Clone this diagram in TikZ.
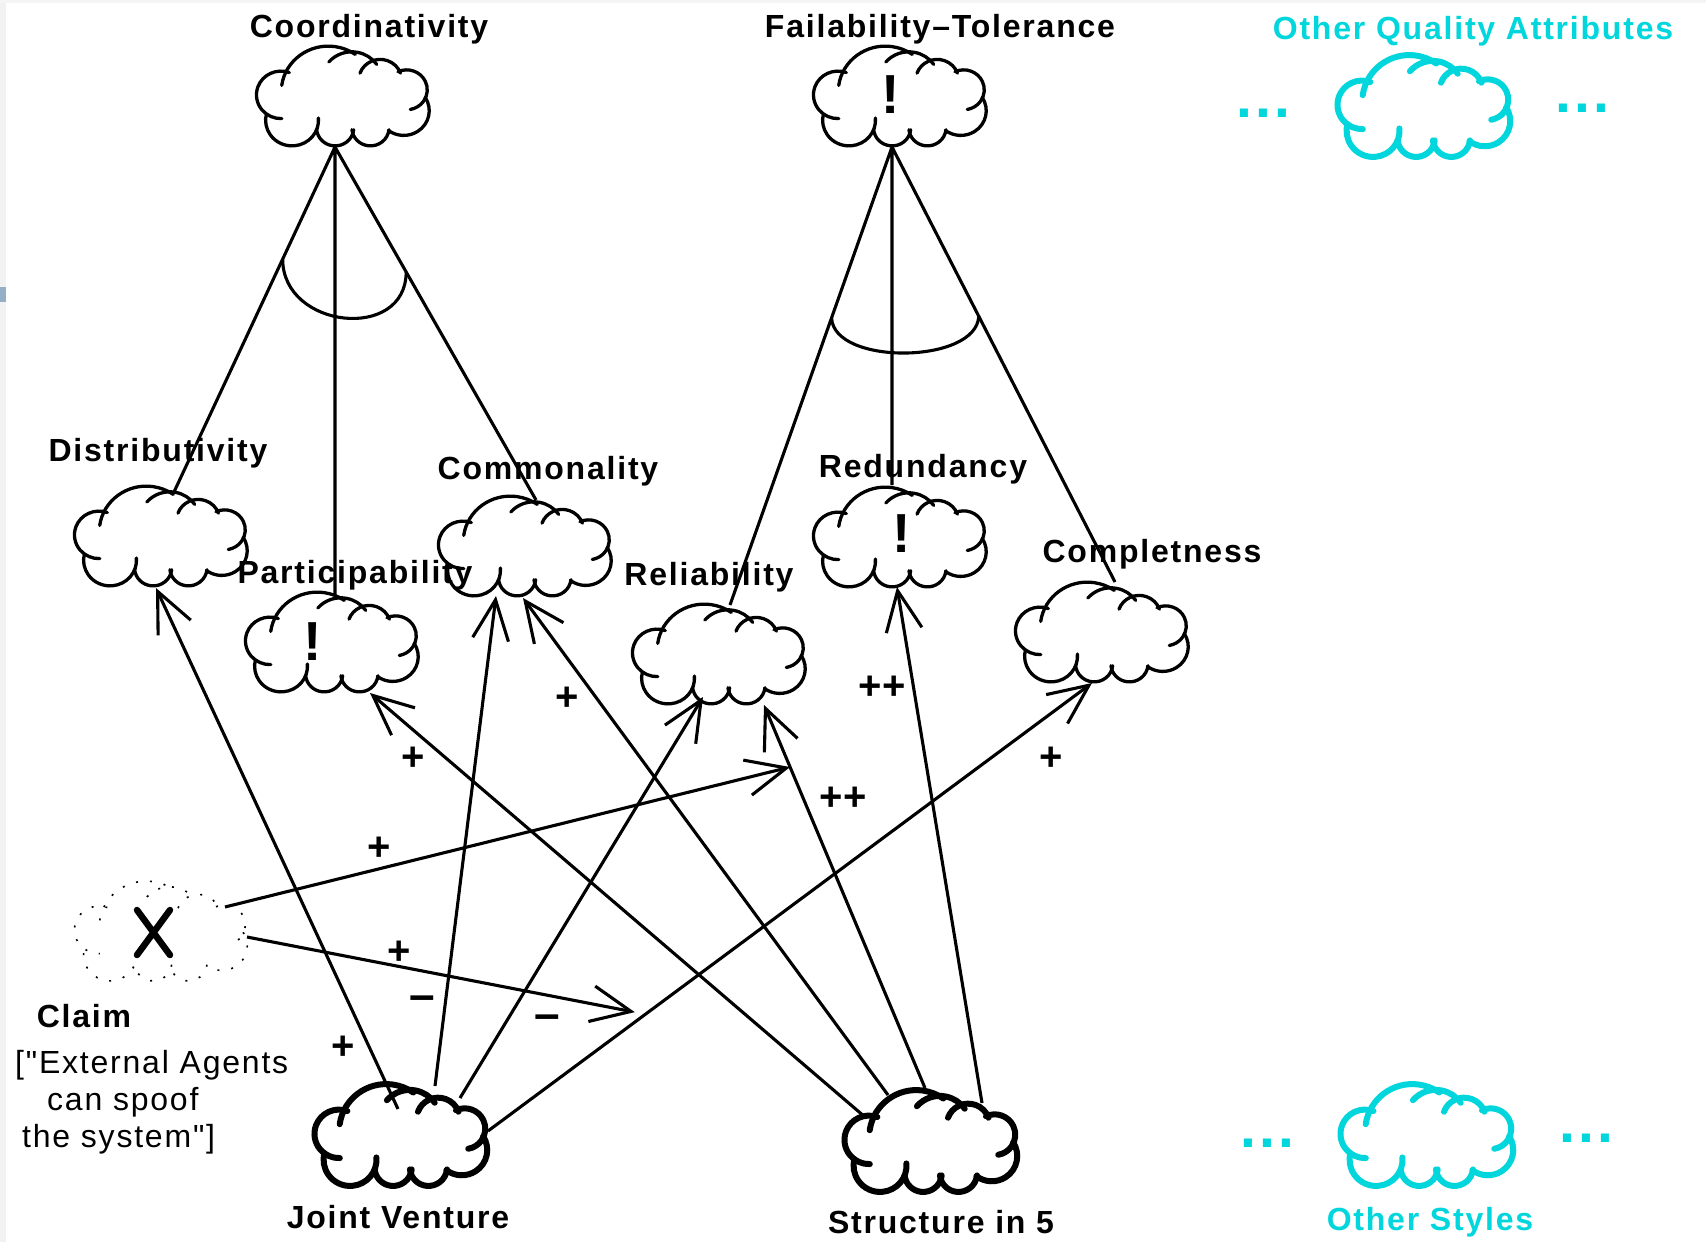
\documentclass[tikz,border=0pt]{standalone}
\usepackage{fontspec}
\setmainfont{Liberation Sans}
\newfontfamily\labfont{Liberation Sans}[LetterSpace=5.6]
\newfontfamily\dotsfont{Liberation Sans}[LetterSpace=5.6]
\usetikzlibrary{arrows.meta,calc}
\definecolor{cyanC}{RGB}{0,214,220}
\definecolor{stripblue}{RGB}{150,175,200}
\tikzset{
 pics/cloudshape/.style={code={
  \draw (-63.3pt,1.2pt) ++(70:25pt) arc[start angle=70,end angle=272,radius=25pt];
  \draw (-15pt,4.5pt) ++(172:48pt) arc[start angle=172,end angle=55,radius=48pt];
  \draw (9pt,15.5pt) ++(139:31pt) arc[start angle=139,end angle=35,radius=31pt];
  \draw (38pt,16.5pt) ++(160:22pt) arc[start angle=160,end angle=20,radius=22pt];
  \draw (65pt,6.5pt) ++(115:21pt) arc[start angle=115,end angle=-80,radius=21pt];
  \draw (62pt,-15.5pt) ++(33:26pt) arc[start angle=33,end angle=-127,radius=26pt];
  \draw (28pt,-33.5pt) ++(-6:19pt) arc[start angle=-6,end angle=-174,radius=19pt];
  \draw (-8pt,-33.5pt) ++(-6:19pt) arc[start angle=-6,end angle=-174,radius=19pt];
  \draw (-52pt,-25.5pt) ++(5:27pt) arc[start angle=5,end angle=-195,radius=27pt];
 }}
}
\begin{document}
\begin{tikzpicture}[x=1pt,y=-1pt,
  cloudbox/.style={minimum width=176pt,minimum height=102pt,inner sep=0pt,outer sep=0pt},
  cl/.style={line width=3.3pt,line cap=round,xscale=0.98,yscale=0.95},
  clthick/.style={line width=6pt,line cap=round,xscale=0.98,yscale=0.97},
  clcyan/.style={clthick,color=cyanC},
  cldot/.style={line width=1.6pt,dash pattern=on 2pt off 12pt,xscale=0.98,yscale=0.95},
  lab/.style={font=\labfont\bfseries\fontsize{32}{37}\selectfont,inner sep=0pt,anchor=base},
  txt/.style={font=\labfont\fontsize{32}{37}\selectfont,inner sep=0pt,anchor=base west},
  sign/.style={font=\bfseries\fontsize{40}{40}\selectfont,inner sep=0pt},
  minus/.style={font=\bfseries\fontsize{46}{46}\selectfont,inner sep=0pt},
  bang/.style={font=\bfseries\fontsize{55}{55}\selectfont,inner sep=0pt,anchor=base},
  andline/.style={line width=3.1pt},
  contrib/.style={line width=3.1pt,-{Straight Barb[length=40pt,width=36pt]}},
  dots/.style={font=\dotsfont\bfseries\fontsize{57}{57}\selectfont,text=cyanC,inner sep=0pt},
]
\useasboundingbox (0,0) rectangle (1706,1242);
\fill[white] (0,0) rectangle (1706,1242);
\fill[black!5] (0,0) rectangle (6,1242);
\fill[black!4] (0,0) rectangle (1706,3);
\fill[stripblue] (0,287) rectangle (6,302);

% cloud nodes
\node[cloudbox] (coord) at (343,96) {};
\node[cloudbox] (fail)  at (900,96) {};
\node[cloudbox] (oqa)   at (1424,106) {};
\node[cloudbox] (dist)  at (161,536) {};
\node[cloudbox] (part)  at (332,642) {};
\node[cloudbox] (comm)  at (525,546) {};
\node[cloudbox] (rel)   at (719,654) {};
\node[cloudbox] (red)   at (900,537) {};
\node[cloudbox] (comp)  at (1102,632) {};
\node[cloudbox] (claim) at (161,931) {};
\node[cloudbox] (jv)    at (401,1135) {};
\node[cloudbox] (s5)    at (931,1141) {};
\node[cloudbox] (os)    at (1427,1135) {};

\foreach \n in {coord,fail,dist,part,comm,rel,red,comp}{\pic[cl] at (\n.center) {cloudshape};}
\pic[clthick] at (jv.center) {cloudshape};
\pic[clthick] at (s5.center) {cloudshape};
\pic[clcyan] at (oqa.center) {cloudshape};
\pic[clcyan] at (os.center) {cloudshape};
\pic[cldot] at (claim.center) {cloudshape};

% marks
\node[bang] (b1) at (891,113) {!};
\node[bang] (b2) at (313,660) {!};
\node[bang] (b3) at (902,552) {!};
\draw[line width=6.5pt,line cap=round] ([shift={(-24,-21)}]claim.center) -- ([shift={(9,24)}]claim.center)
  ([shift={(9,-21)}]claim.center) -- ([shift={(-24,24)}]claim.center);

% labels
\node[lab] (tcoord) at (369,37) {Coordinativity};
\node[lab] (tfail) at (940,37) {Failability–Tolerance};
\node[lab,text=cyanC] (toqa) at (1473,39) {Other Quality Attributes};
\node[lab] (tdist) at (158,461) {Distributivity};
\node[lab] (tcomm) at (548,479) {Commonality};
\node[lab] (tpart) at (355,583) {Participability};
\node[lab] (trel) at (709,585) {Reliability};
\node[lab] (tred) at (923,477) {Redundancy};
\node[lab] (tcomp) at (1152,562) {Completness};
\node[lab] (tclaim) at (84,1027) {Claim};
\node[txt] (cl1) at (15,1073) {["External Agents};
\node[txt] (cl2) at (47,1110) {can spoof};
\node[txt] (cl3) at (22,1147) {the system"]};
\node[lab] (tjv) at (398,1228) {Joint Venture};
\node[lab] (ts5) at (941,1233) {Structure in 5};
\node[lab,text=cyanC] (tos) at (1430,1230) {Other Styles};

\node[dots] (d1) at (1263,113) {...};
\node[dots] (d2) at (1582,108) {...};
\node[dots] (d3) at (1267,1143) {...};
\node[dots] (d4) at (1586,1138) {...};

% AND decompositions
\coordinate (ca) at ([shift={(-8,51)}]coord.center);
\coordinate (cd) at ([shift={(13,-44)}]dist.center);
\coordinate (cp) at ([shift={(3,-46)}]part.center);
\coordinate (cc) at ([shift={(11,-46)}]comm.center);
\draw[andline] (ca) -- (cd) (ca) -- (cp) (ca) -- (cc);
\coordinate (cL) at ($(ca)!0.325!(cd)$);
\coordinate (cR) at ($(ca)!0.354!(cc)$);
\draw[andline] (cL) .. controls ($(cL)+(0,70)$) and ($(cR)+(0,70)$) .. (cR);

\coordinate (fa) at ([shift={(-8,51)}]fail.center);
\coordinate (frl) at ([shift={(11,-49)}]rel.center);
\coordinate (frd) at ([shift={(-8,-52)}]red.center);
\coordinate (fco) at ([shift={(13,-50)}]comp.center);
\draw[andline] (fa) -- (frl) (fa) -- (frd) (fa) -- (fco);
\coordinate (fL) at ($(fa)!0.373!(frl)$);
\coordinate (fR) at ($(fa)!0.389!(fco)$);
\draw[andline] (fL) .. controls ($(fL)+(2,48)$) and ($(fR)+(-2,48)$) .. (fR);

% contributions
\coordinate (a1s) at ([shift={(-3,-26)}]jv.center);
\coordinate (a1t) at ([shift={(-5,52)}]dist.center);
\coordinate (a2s) at ([shift={(34,-49)}]jv.center);
\coordinate (a2t) at ([shift={(-29,50)}]comm.center);
\coordinate (a3s) at ([shift={(59,-37)}]jv.center);
\coordinate (a3t) at ([shift={(-16,43)}]rel.center);
\coordinate (a4s) at ([shift={(87,-4)}]jv.center);
\coordinate (a4t) at ([shift={(-10,51)}]comp.center);
\coordinate (a5s) at ([shift={(-66,-24)}]s5.center);
\coordinate (a5t) at ([shift={(38,51)}]part.center);
\coordinate (a6s) at ([shift={(-43,-46)}]s5.center);
\coordinate (a6t) at ([shift={(-2,52)}]comm.center);
\coordinate (a7s) at ([shift={(-6,-53)}]s5.center);
\coordinate (a7t) at ([shift={(45,51)}]rel.center);
\coordinate (a8s) at ([shift={(51,-38)}]s5.center);
\coordinate (a8t) at ([shift={(-3,50)}]red.center);
\coordinate (a9s) at ([shift={(64,-24)}]claim.center);
\coordinate (a9t) at ($(a7s)!0.838!(a7t)$);
\coordinate (a10s) at ([shift={(86,6)}]claim.center);
\coordinate (a10t) at ([shift={(0,-10)}]$(a4s)!0.243!(a4t)$);
\foreach \i in {1,...,10}{\draw[contrib] (a\i s) -- (a\i t);}

\node[sign] (l1) at (343,1048) {+};
\node[minus] (l2) at (422,1003) {–};
\node[minus] (l3) at (547,1022) {–};
\node[sign] (l4) at (1051,759) {+};
\node[sign] (l5) at (413,759) {+};
\node[sign] (l6) at (567,699) {+};
\node[sign] (l7) at (843,799) {++};
\node[sign] (l8) at (882,688) {++};
\node[sign] (l9) at (379,849) {+};
\node[sign] (l10) at (399,953) {+};
\end{tikzpicture}
\end{document}
